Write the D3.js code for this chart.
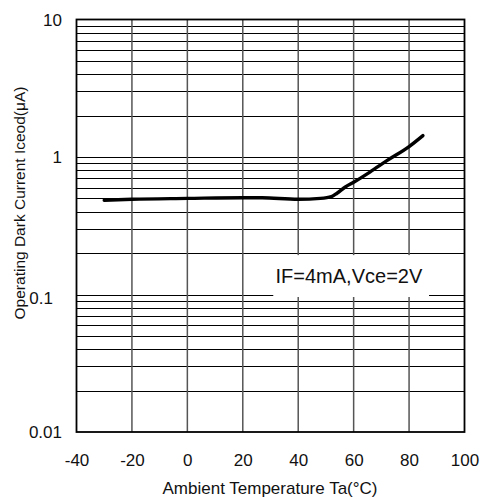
<!DOCTYPE html>
<html>
<head>
<meta charset="utf-8">
<script src="https://cdn.jsdelivr.net/npm/d3@7"></script>
<style>
  html, body { margin: 0; padding: 0; background: #fff; }
  svg { display: block; font-family: "Liberation Sans", Arial, sans-serif; }
</style>
</head>
<body>
<svg id="chart" width="486" height="500"></svg>
<script>
// ---- data ----
const temps   = [-30, -20, 0, 20, 27, 40, 48, 52, 54, 57, 60, 66, 72, 80, 85];
const current = [0.485, 0.493, 0.5, 0.506, 0.505, 0.493, 0.5, 0.515, 0.545, 0.605, 0.655, 0.78, 0.94, 1.19, 1.43];
const xTicks = [-40, -20, 0, 20, 40, 60, 80, 100];
const yTicks = [0.01, 0.1, 1, 10];
const yTickLabels = ["0.01", "0.1", "1", "10"];
const conditionLabel = "IF=4mA,Vce=2V";
const xTitle = "Ambient Temperature Ta(°C)";
const yTitle = "Operating Dark Current Iceod(μA)";

const svg = d3.select("#chart");
const L = 76.5, R = 464.5, T = 19.5, B = 432;

const x = d3.scaleLinear().domain([-40, 100]).range([L, R]);
const y = d3.scaleLog().domain([0.01, 10]).range([B, T]);

// minor log grid values (2..9 in each decade)
const minor = [];
[0.01, 0.1, 1].forEach(d => { for (let k = 2; k <= 9; k++) minor.push(d * k); });
const majors = [0.1, 1];

const g = svg.append("g");

// horizontal grid
g.selectAll("line.h").data(minor.concat(majors)).enter().append("line")
  .attr("x1", L).attr("x2", R)
  .attr("y1", d => Math.round(y(d)) + 0.5).attr("y2", d => Math.round(y(d)) + 0.5)
  .attr("stroke", "#000").attr("stroke-width", 1);

// vertical grid
g.selectAll("line.v").data(xTicks.slice(1, -1)).enter().append("line")
  .attr("x1", d => x(d)).attr("x2", d => x(d))
  .attr("y1", T).attr("y2", B)
  .attr("stroke", "#555").attr("stroke-width", 1.5);

// condition label box (hides grid)
const bx0 = x(31), bx1 = x(87.2);
const by0 = y(0.2) + 2, by1 = y(0.1) + 2.5;
svg.append("rect")
  .attr("x", bx0).attr("y", by0)
  .attr("width", bx1 - bx0).attr("height", by1 - by0)
  .attr("fill", "#fff");
svg.append("text")
  .attr("x", x(58.3)).attr("y", 282.5)
  .attr("text-anchor", "middle")
  .attr("font-size", 20).attr("fill", "#111")
  .text(conditionLabel);

// frame
svg.append("rect")
  .attr("x", L).attr("y", T).attr("width", R - L).attr("height", B - T)
  .attr("fill", "none").attr("stroke", "#000").attr("stroke-width", 1.8);

// curve
const pts = temps.map((t, i) => [t, current[i]]);
svg.append("path")
  .datum(pts)
  .attr("d", d3.line().x(d => x(d[0])).y(d => y(d[1])).curve(d3.curveMonotoneX))
  .attr("fill", "none").attr("stroke", "#000").attr("stroke-width", 3.4)
  .attr("stroke-linecap", "round");

// x axis labels via d3 axis
const xAxis = d3.axisBottom(x).tickValues(xTicks).tickSize(0).tickPadding(0).tickFormat(d => String(d));
const xg = svg.append("g").attr("transform", `translate(0,${B})`).call(xAxis);
xg.select(".domain").remove();
xg.selectAll("text").attr("font-size", 17).attr("fill", "#111")
  .attr("font-family", "Liberation Sans, Arial, sans-serif")
  .attr("dy", null).attr("y", 34);

// y axis labels via d3 axis
const yAxis = d3.axisLeft(y).tickValues(yTicks).tickSize(0).tickPadding(0)
  .tickFormat((d, i) => yTickLabels[i]);
const yg = svg.append("g").attr("transform", `translate(62,0)`).call(yAxis);
yg.select(".domain").remove();
yg.selectAll("text").attr("font-size", 17).attr("fill", "#111")
  .attr("font-family", "Liberation Sans, Arial, sans-serif")
  .attr("x", d => d === 0.1 ? -9 : 0)
  .attr("dy", d => d === 0.1 ? "0.5em" : "0.35em");

// axis titles
svg.append("text")
  .attr("x", 270).attr("y", 494)
  .attr("text-anchor", "middle").attr("font-size", 17).attr("fill", "#111")
  .text(xTitle);
svg.append("text")
  .attr("transform", "translate(25,203) rotate(-90)")
  .attr("text-anchor", "middle").attr("font-size", 15.5).attr("fill", "#111")
  .text(yTitle);
</script>
</body>
</html>
